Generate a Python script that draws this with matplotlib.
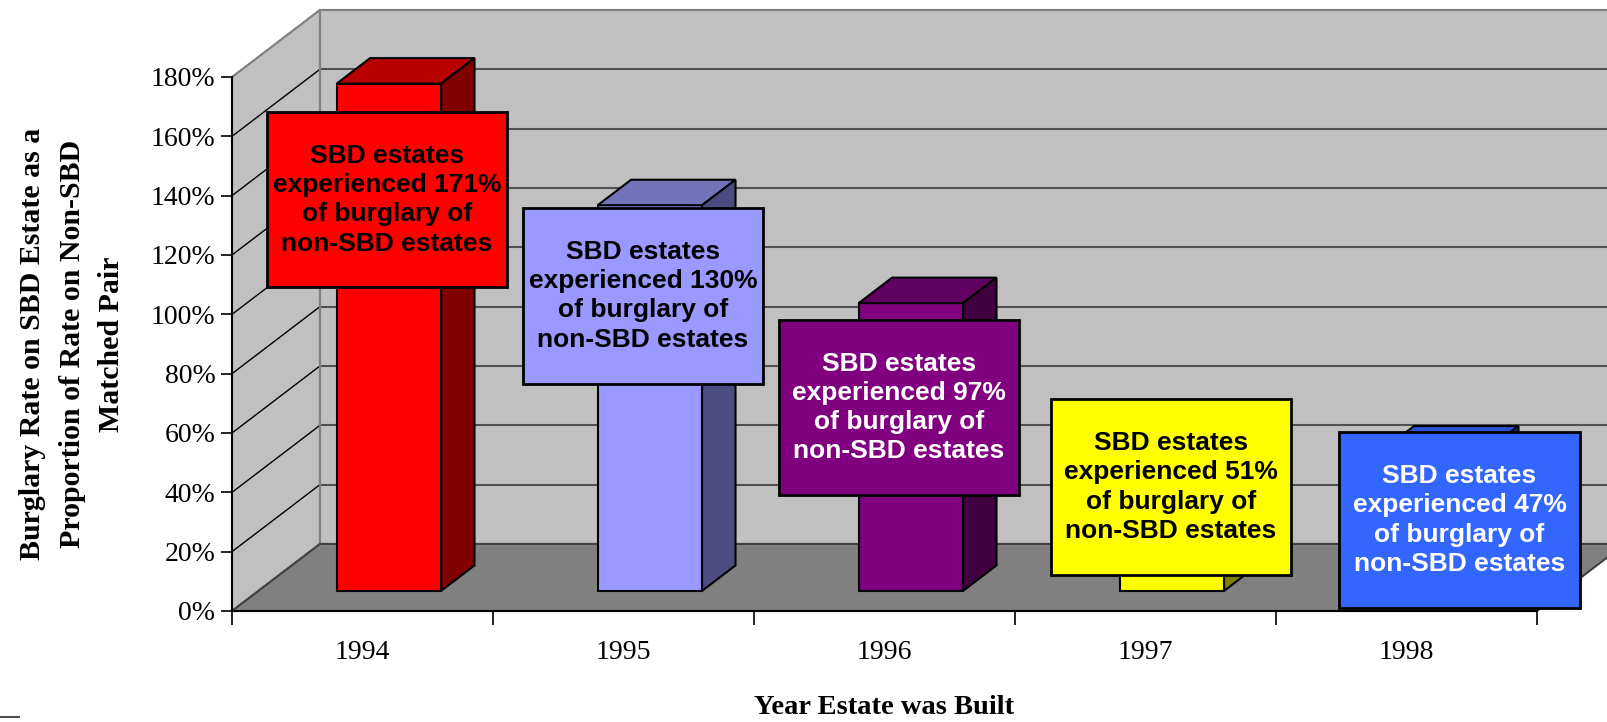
import matplotlib
matplotlib.use("Agg")
import matplotlib.pyplot as plt
from matplotlib.patches import Polygon, Rectangle
from matplotlib.ticker import FuncFormatter

# Data
years = ['1994', '1995', '1996', '1997', '1998']
rates = [171, 130, 97, 51, 47]  # burglary rate SBD / non-SBD (%)

front_colors = ['#FF0000', '#9999FF', '#800080', '#FFFF00', '#3366FF']
top_colors = ['#B80000', '#7373BA', '#600060', '#C0C000', '#2A52CC']
side_colors = ['#800000', '#4C4C80', '#400040', '#808000', '#1A3380']
text_colors = ['black', 'black', 'white', 'black', 'white']

# label boxes: centre (category units, %)
box_x = [0.594, 1.575, 2.556, 3.598, 4.703]
box_y = [138.7, 106.3, 68.6, 41.8, 30.7]
box_w, box_h = 0.92, 59.3

# oblique 3D offsets for the full depth of the plot
dx, dy = 0.337, 22.6
ymax = 180
ncat = len(years)

fig = plt.figure(figsize=(16.08, 7.22), dpi=100)
ax = fig.add_axes([232 / 1608, 111 / 722, 1305 / 1608, 534 / 722])
ax.set_xlim(0, ncat)
ax.set_ylim(0, ymax)
ax.patch.set_visible(False)


def poly(pts, fc, ec='none', lw=1.0, z=1):
    ax.add_patch(Polygon(pts, closed=True, facecolor=fc, edgecolor=ec,
                         linewidth=lw, zorder=z, clip_on=False))


# walls and floor
poly([(dx, dy), (ncat + dx, dy), (ncat + dx, ymax + dy), (dx, ymax + dy)],
     '#C0C0C0', '#808080', 1.5, 0)
poly([(0, 0), (dx, dy), (dx, ymax + dy), (0, ymax)], '#C0C0C0', '#808080', 1.5, 0)
poly([(0, 0), (ncat, 0), (ncat + dx, dy), (dx, dy)], '#808080', '#404040', 1.5, 1)

for v in range(20, ymax + 1, 20):
    ax.plot([dx, ncat + dx], [v + dy, v + dy], color='#505050' if v < ymax else '#808080',
            lw=1.5, zorder=0.5, clip_on=False)
    ax.plot([0, dx], [v, v + dy], color='black' if v < ymax else '#808080',
            lw=1.0, zorder=0.5, clip_on=False)
ax.plot([dx, dx], [dy, ymax + dy], color='#808080', lw=1.5, zorder=0.6, clip_on=False)

# bars
d0, d1 = 0.30, 0.68
bw = 0.40
for i, v in enumerate(rates):
    x0 = i + 0.5 - bw / 2 + d0 * dx
    y0 = d0 * dy
    ox, oy = (d1 - d0) * dx, (d1 - d0) * dy
    poly([(x0, y0), (x0 + bw, y0), (x0 + bw, y0 + v), (x0, y0 + v)],
         front_colors[i], 'black', 1.5, 2)
    poly([(x0, y0 + v), (x0 + bw, y0 + v), (x0 + bw + ox, y0 + v + oy), (x0 + ox, y0 + v + oy)],
         top_colors[i], 'black', 1.5, 2)
    poly([(x0 + bw, y0), (x0 + bw + ox, y0 + oy), (x0 + bw + ox, y0 + v + oy), (x0 + bw, y0 + v)],
         side_colors[i], 'black', 1.5, 2)

    # label box
    ax.add_patch(Rectangle((box_x[i] - box_w / 2, box_y[i] - box_h / 2), box_w, box_h,
                           facecolor=front_colors[i], edgecolor='black', linewidth=2,
                           zorder=3, clip_on=False))
    ax.text(box_x[i], box_y[i],
            f'SBD estates\nexperienced {v}%\nof burglary of\nnon-SBD estates',
            ha='center', va='center', fontsize=19, fontweight='bold',
            family='Liberation Sans', color=text_colors[i], zorder=4,
            linespacing=1.28)

# axes
for s in ['top', 'right']:
    ax.spines[s].set_visible(False)
ax.spines['left'].set_linewidth(1.5)
ax.spines['bottom'].set_linewidth(1.5)
ax.spines['left'].set_zorder(5)
ax.spines['bottom'].set_zorder(5)

ax.set_yticks(range(0, ymax + 1, 20))
ax.yaxis.set_major_formatter(FuncFormatter(lambda v, p: f'{v:.0f}%'))
ax.tick_params(axis='y', length=8, width=1.2, pad=4, labelsize=20)

ax.set_xticks(range(ncat + 1))
ax.set_xticklabels([])
ax.set_xticks([i + 0.5 for i in range(ncat)], minor=True)
ax.set_xticklabels(years, minor=True)
ax.tick_params(axis='x', which='major', length=10, width=1.2)
ax.tick_params(axis='x', which='minor', length=0, pad=21, labelsize=20)
for lab in ax.get_xticklabels(minor=True) + ax.get_yticklabels():
    lab.set_family('Liberation Serif')

ax.set_ylabel('Burglary Rate on SBD Estate as a\nProportion of Rate on Non-SBD\nMatched Pair',
              fontsize=21.5, fontweight='bold', family='Liberation Serif',
              linespacing=1.6)
ax.yaxis.label.set_va('center')
ax.yaxis.set_label_coords((72 - 232) / 1305, 0.5)
ax.set_xlabel('Year Estate was Built', fontsize=20.5, fontweight='bold',
              family='Liberation Serif')
ax.xaxis.label.set_va('center')
ax.xaxis.set_label_coords(0.5, (611 - 708) / 534)

# small stray mark at bottom-left
fig.add_artist(plt.Line2D([0, 19 / 1608], [5 / 722, 5 / 722], color='#505050', lw=1.5))

fig.savefig('out.png', dpi=100)
